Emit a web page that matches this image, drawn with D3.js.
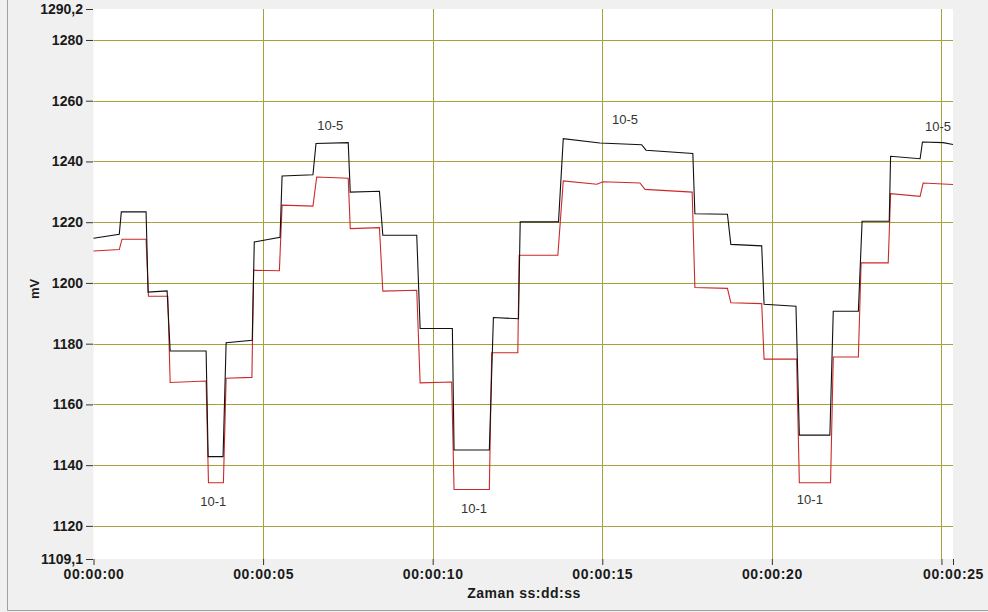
<!DOCTYPE html>
<html>
<head>
<meta charset="utf-8">
<script src="https://cdn.jsdelivr.net/npm/d3@7"></script>
<style>
  html, body { margin: 0; padding: 0; background: #f0f0f0; }
  svg { display: block; }
  text { font-family: "Liberation Sans", Arial, sans-serif; }
</style>
</head>
<body>
<svg id="chart" width="988" height="612"></svg>
<script>
// ---- data (time in seconds, value in mV) ----
const blackTimes = [0, 0.76, 0.82, 1.55, 1.61, 2.17, 2.26, 3.32, 3.38, 3.82, 3.91, 4.68, 4.74, 5.50, 5.56, 6.47, 6.56, 7.51, 7.57, 8.43, 8.53, 9.53, 9.63, 10.58, 10.63, 11.67, 11.79, 12.53, 12.58, 13.71, 13.85, 14.93, 16.16, 16.29, 17.67, 17.73, 18.69, 18.79, 19.70, 19.77, 20.71, 20.81, 21.71, 21.81, 22.55, 22.66, 23.46, 23.50, 24.37, 24.44, 25.05, 25.34];
const blackValues = [1214.7, 1216.0, 1223.4, 1223.4, 1197.0, 1197.4, 1177.6, 1177.6, 1142.8, 1142.8, 1180.3, 1181.1, 1213.5, 1215.0, 1235.2, 1235.6, 1245.9, 1246.2, 1229.9, 1230.2, 1215.7, 1215.7, 1185.0, 1185.0, 1145.0, 1145.0, 1188.6, 1188.2, 1220.1, 1220.1, 1247.5, 1246.1, 1245.5, 1243.7, 1242.6, 1222.8, 1222.6, 1212.7, 1212.2, 1193.0, 1192.3, 1149.9, 1149.9, 1190.7, 1190.7, 1220.3, 1220.3, 1241.7, 1240.9, 1246.4, 1246.2, 1245.6];

const redTimes = [0, 0.76, 0.84, 1.55, 1.62, 2.19, 2.26, 3.32, 3.39, 3.83, 3.91, 4.67, 4.72, 5.48, 5.56, 6.47, 6.58, 7.51, 7.57, 8.43, 8.53, 9.53, 9.63, 10.56, 10.63, 11.67, 11.74, 12.51, 12.55, 13.69, 13.85, 14.84, 15.02, 16.11, 16.26, 17.65, 17.73, 18.69, 18.79, 19.70, 19.77, 20.73, 20.81, 21.73, 21.81, 22.55, 22.63, 23.43, 23.50, 24.37, 24.46, 25.34];
const redValues = [1210.5, 1211.0, 1214.4, 1214.4, 1195.6, 1195.6, 1167.2, 1167.7, 1134.2, 1134.2, 1168.6, 1168.9, 1204.2, 1204.0, 1225.6, 1225.3, 1234.9, 1234.5, 1217.9, 1218.2, 1197.3, 1197.6, 1167.1, 1167.4, 1132.0, 1132.0, 1177.0, 1177.0, 1209.1, 1209.1, 1233.6, 1232.5, 1233.3, 1232.9, 1230.8, 1229.9, 1198.5, 1198.2, 1193.5, 1193.2, 1174.9, 1174.9, 1134.2, 1134.2, 1175.6, 1175.6, 1206.6, 1206.6, 1229.4, 1228.5, 1232.9, 1232.4];

const yTickValues = [1109.1, 1120, 1140, 1160, 1180, 1200, 1220, 1240, 1260, 1280, 1290.2];
const yTickLabels = ["1109,1", "1120", "1140", "1160", "1180", "1200", "1220", "1240", "1260", "1280", "1290,2"];
// x ticks: the last (domain end) carries the rounded label 00:00:25; 25 s has a bare tick
const xTickValues = [0, 5, 10, 15, 20, 25, 25.34];
const xTickLabels = ["00:00:00", "00:00:05", "00:00:10", "00:00:15", "00:00:20", "", "00:00:25"];
const xGridValues = [5, 10, 15, 20, 25];

// annotations
const annoTimes = [6.98, 15.67, 24.9, 3.53, 11.22, 21.12];
const annoValues = [1246.3, 1248.4, 1246.2, 1132.0, 1130.0, 1132.8];
const annoTexts = ["10-5", "10-5", "10-5", "10-1", "10-1", "10-1"];

const xDomain = [0, 25.34];
const yDomain = [1109.1, 1290.2];

// ---- layout ----
const svg = d3.select("#chart");
const L = 93.5, R = 953, T = 9, B = 559;
const x = d3.scaleLinear().domain(xDomain).range([L, R]);
const y = d3.scaleLinear().domain(yDomain).range([B, T]);
const gridColor = "#a3a23c";

// outer frame
svg.append("line").attr("x1", 7.5).attr("x2", 7.5).attr("y1", 0).attr("y2", 610.5)
  .attr("stroke", "#a0a0a0");
svg.append("line").attr("x1", 7.5).attr("x2", 988).attr("y1", 610.5).attr("y2", 610.5)
  .attr("stroke", "#a0a0a0");

// plot background
svg.append("rect").attr("x", L).attr("y", T).attr("width", R - L).attr("height", B - T)
  .attr("fill", "#ffffff");

// grid
const grid = svg.append("g");
grid.selectAll("line.h").data(yTickValues.slice(1, -1)).join("line")
  .attr("x1", L).attr("x2", R)
  .attr("y1", d => Math.round(y(d)) + 0.5).attr("y2", d => Math.round(y(d)) + 0.5)
  .attr("stroke", gridColor).attr("stroke-width", 1);
grid.selectAll("line.v").data(xGridValues).join("line")
  .attr("y1", T).attr("y2", B)
  .attr("x1", d => Math.round(x(d)) + 0.5).attr("x2", d => Math.round(x(d)) + 0.5)
  .attr("stroke", gridColor).attr("stroke-width", 1);

// y axis
const yAxis = d3.axisLeft(y).tickValues(yTickValues)
  .tickFormat((d, i) => yTickLabels[i]).tickSize(7).tickPadding(3);
const gy = svg.append("g").attr("transform", `translate(${L - 0.5},0)`).call(yAxis);
gy.select(".domain").remove();
gy.selectAll(".tick line").attr("stroke", "#333");
gy.selectAll(".tick text").attr("font-size", 14).attr("font-weight", "bold")
  .attr("fill", "#1a1a1a").attr("font-family", "Liberation Sans, Arial, sans-serif");

// x axis
const xAxis = d3.axisBottom(x).tickValues(xTickValues)
  .tickFormat((d, i) => xTickLabels[i])
  .tickSize(6).tickPadding(4);
const gx = svg.append("g").attr("transform", `translate(0,${B})`).call(xAxis);
gx.select(".domain").remove();
gx.selectAll(".tick line").attr("stroke", "#333");
gx.selectAll(".tick text").attr("font-size", 14).attr("font-weight", "bold")
  .attr("fill", "#1a1a1a").attr("letter-spacing", "0.6px")
  .attr("font-family", "Liberation Sans, Arial, sans-serif");

// axis titles
svg.append("text").attr("x", 524).attr("y", 598).attr("text-anchor", "middle")
  .attr("font-size", 14).attr("font-weight", "bold").attr("fill", "#1a1a1a")
  .attr("letter-spacing", "0.5px")
  .text("Zaman ss:dd:ss");
svg.append("text").attr("transform", "translate(39,289) rotate(-90)")
  .attr("text-anchor", "middle").attr("font-size", 13).attr("font-weight", "bold")
  .attr("fill", "#1a1a1a").text("mV");

// lines
const line = d3.line().x(d => x(d[0])).y(d => y(d[1]));
const blackData = blackTimes.map((t, i) => [t, blackValues[i]]);
const redData = redTimes.map((t, i) => [t, redValues[i]]);

svg.append("path").datum(redData).attr("d", line)
  .attr("fill", "none").attr("stroke", "#cc2a2a").attr("stroke-width", 1.1);
svg.append("path").datum(blackData).attr("d", line)
  .attr("fill", "none").attr("stroke", "#111").attr("stroke-width", 1.1);

// annotations
svg.selectAll("text.anno").data(annoTexts).join("text")
  .attr("class", "anno")
  .attr("x", (d, i) => x(annoTimes[i]))
  .attr("y", (d, i) => d === "10-5" ? y(annoValues[i]) - 12 : y(annoValues[i]) + 17)
  .attr("text-anchor", "middle").attr("font-size", 13).attr("fill", "#333")
  .text(d => d);
</script>
</body>
</html>
